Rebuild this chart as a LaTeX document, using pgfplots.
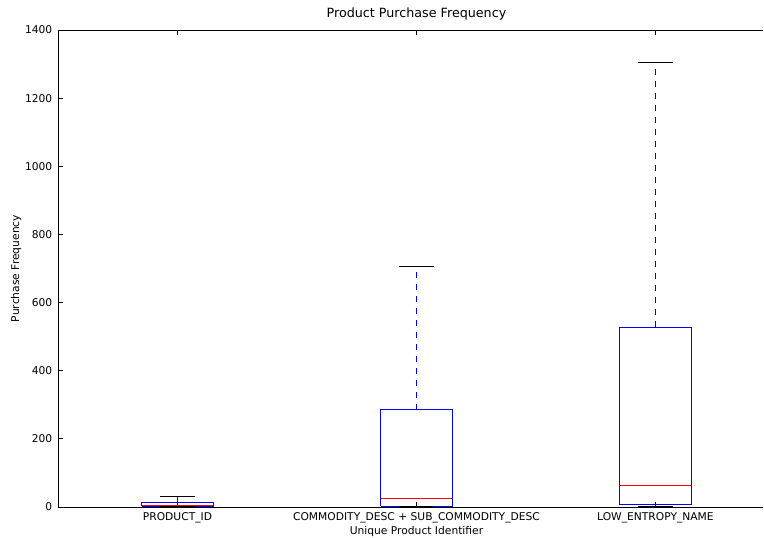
\documentclass[border=0pt]{standalone}
\usepackage{fontspec}
\setmainfont{DejaVu Sans}
\usepackage{pgfplots}
\pgfplotsset{compat=1.18}
\definecolor{mplblue}{rgb}{0,0,1}
\definecolor{mplred}{rgb}{1,0,0}
\begin{document}
\begin{tikzpicture}
\useasboundingbox (0,0) rectangle (764pt,538pt);
\begin{axis}[
  at={(58pt,31pt)}, anchor=south west,
  scale only axis, width=705pt, height=477pt,
  xmin=0.5, xmax=3.45, ymin=0, ymax=1400,
  axis x line*=box, axis y line*=left,
  xtick={1,2,3},
  xticklabels={PRODUCT\_ID, COMMODITY\_DESC + SUB\_COMMODITY\_DESC, LOW\_ENTROPY\_NAME},
  ytick={0,200,400,600,800,1000,1200,1400},
  tick align=inside, major tick length=5pt,
  every tick/.style={black, line width=0.8pt},
  axis line style={black, line width=0.9pt},
  /pgf/number format/assume math mode=true,
  /pgf/number format/1000 sep={},
  yticklabel style={font=\fontsize{10.7}{12}\selectfont, anchor=east, inner sep=0pt, xshift=-5.5pt},
  xticklabel style={font=\fontsize{10.7}{12}\selectfont, anchor=base, inner sep=0pt, yshift=-14pt},
  title={Product Purchase Frequency},
  title style={font=\fontsize{12.7}{14}\selectfont, at={(axis description cs:0.5085,1)}, anchor=base, inner sep=0pt, yshift=6pt},
  xlabel={Unique Product Identifier},
  xlabel style={font=\fontsize{10.7}{12}\selectfont, at={(axis description cs:0.5085,0)}, anchor=base, inner sep=0pt, yshift=-28pt},
  ylabel={Purchase Frequency},
  ylabel style={font=\fontsize{10.7}{12}\selectfont, at={(axis description cs:-0.0553,0.5)}, anchor=base, inner sep=0pt},
  unbounded coords=jump,
]
% whiskers (PRODUCT_ID, COMMODITY_DESC + SUB_COMMODITY_DESC, LOW_ENTROPY_NAME)
\addplot[mplblue, line width=1pt, dash pattern=on 6pt off 6pt] coordinates {
  (1,1.5) (1,0.5) (nan,nan) (1,12.5) (1,30) (nan,nan)
  (2,1.5) (2,0.5) (nan,nan) (2,285) (2,706) (nan,nan)
  (3,6) (3,1) (nan,nan) (3,528) (3,1305)};
% boxes
\addplot[mplblue, line width=1pt, line join=miter] coordinates {
  (0.85,1.5) (1.15,1.5) (1.15,12.5) (0.85,12.5) (0.85,1.5) (nan,nan)
  (1.85,1.5) (2.15,1.5) (2.15,285) (1.85,285) (1.85,1.5) (nan,nan)
  (2.85,6) (3.15,6) (3.15,528) (2.85,528) (2.85,6)};
% medians
\addplot[mplred, line width=1pt] coordinates {
  (0.85,3) (1.15,3) (nan,nan)
  (1.85,25.5) (2.15,25.5) (nan,nan)
  (2.85,62) (3.15,62)};
% caps
\addplot[black, line width=1pt] coordinates {
  (0.925,0.5) (1.075,0.5) (nan,nan) (0.925,30) (1.075,30) (nan,nan)
  (1.925,0.5) (2.075,0.5) (nan,nan) (1.925,706) (2.075,706) (nan,nan)
  (2.925,1) (3.075,1) (nan,nan) (2.925,1305) (3.075,1305)};
\end{axis}
\end{tikzpicture}
\end{document}
